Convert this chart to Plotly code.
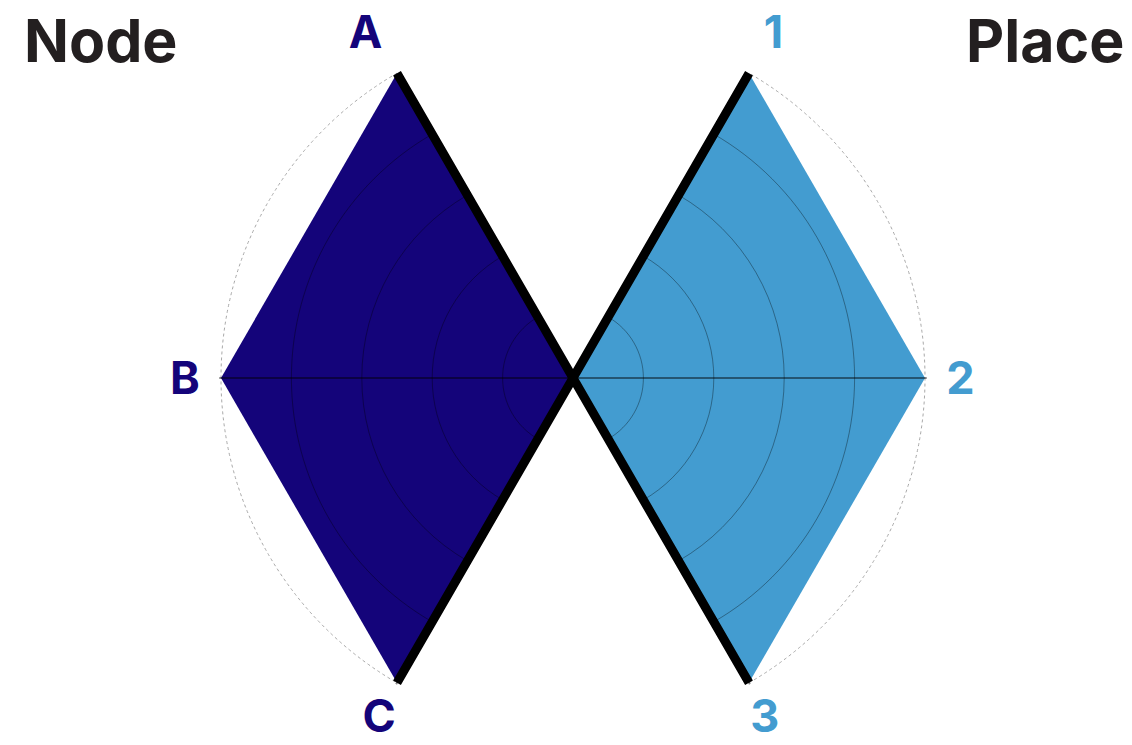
import plotly.graph_objects as go

# ---- data ----
node_categories = ["A", "B", "C"]
node_values = [5, 5, 5]
place_categories = ["1", "2", "3"]
place_values = [5, 5, 5]
radial_max = 5
grid_ticks = [1, 2, 3, 4]

NAVY = "#14047A"
BLUE = "#439CD0"
FONT = "Inter"
LABEL_SIZE = 45

W, H = 1132, 745
cx, cy = 573, 378          # shared centre (px from top-left)
RANGE_MAX = radial_max * 1.005
R = 352 * RANGE_MAX / radial_max   # so that r=5 lands at 352 px

def dom_x(x0, x1):
    return [x0 / W, x1 / W]

def dom_y(top, bottom):
    return [1 - bottom / H, 1 - top / H]

left_dom = dict(x=dom_x(cx - R, cx), y=dom_y(cy - R * 0.8660254, cy + R * 0.8660254))
right_dom = dict(x=dom_x(cx, cx + R), y=dom_y(cy - R * 0.8660254, cy + R * 0.8660254))
full_dom = dict(x=dom_x(cx - R, cx + R), y=dom_y(cy - R, cy + R))

left_sector = [120, 240]
right_sector = [-60, 60]

def angles(sector, n):
    step = (sector[1] - sector[0]) / (n - 1)
    return [sector[0] + i * step for i in range(n)]

node_theta = angles(left_sector, len(node_categories))          # A, B, C
place_theta = list(reversed(angles(right_sector, len(place_categories))))  # 1, 2, 3

def colored(txt, col):
    return f"<span style='color:{col}'>{txt}</span>"

fig = go.Figure()

# filled shapes (bottom polars)
fig.add_trace(go.Scatterpolar(
    r=[0] + node_values, theta=[180] + node_theta, mode="lines",
    fill="toself", fillcolor=NAVY, line=dict(width=0, color=NAVY),
    subplot="polar", showlegend=False, hoverinfo="skip"))
fig.add_trace(go.Scatterpolar(
    r=[0] + place_values, theta=[0] + place_theta, mode="lines",
    fill="toself", fillcolor=BLUE, line=dict(width=0, color=BLUE),
    subplot="polar3", showlegend=False, hoverinfo="skip"))

# placeholders so the grid overlays get drawn
for sp in ("polar2", "polar4"):
    fig.add_trace(go.Scatterpolar(r=[0], theta=[0], mode="markers",
                                  marker=dict(size=0.1, opacity=0), subplot=sp,
                                  showlegend=False, hoverinfo="skip"))

# thick edges (full-circle overlay polar)
fig.add_trace(go.Scatterpolar(
    r=[node_values[0], 0, node_values[-1]],
    theta=[node_theta[0], 180, node_theta[-1]], mode="lines",
    line=dict(width=9, color="black"), subplot="polar5",
    showlegend=False, hoverinfo="skip"))
fig.add_trace(go.Scatterpolar(
    r=[place_values[0], 0, place_values[-1]],
    theta=[place_theta[0], 0, place_theta[-1]], mode="lines",
    line=dict(width=9, color="black"), subplot="polar5",
    showlegend=False, hoverinfo="skip"))

def tickfont(color):
    return dict(family=FONT, size=LABEL_SIZE, color=color, weight="bold")

def base_polar(dom, sector, tickval, ticktext, color):
    # fills + dotted outer ring + middle label
    return dict(
        domain=dom, sector=sector, bgcolor="rgba(0,0,0,0)", hole=0,
        radialaxis=dict(range=[0, RANGE_MAX], tickmode="array", tickvals=[radial_max],
                        showticklabels=False, ticks="", showline=False,
                        showgrid=True, gridcolor="#a8a8a8", gridwidth=1, griddash="dot"),
        angularaxis=dict(thetaunit="degrees", direction="counterclockwise", rotation=0,
                         tickmode="array", tickvals=[tickval], ticktext=[ticktext],
                         tickfont=tickfont(color),
                         ticks="outside", ticklen=10, tickcolor="rgba(0,0,0,0)",
                         showgrid=False, showline=False))

def top_polar(dom, sector, gridangle, low_angle, low_text, color):
    # inner grid circles + middle spoke + bottom label
    return dict(
        domain=dom, sector=sector, bgcolor="rgba(0,0,0,0)", hole=0,
        radialaxis=dict(range=[0, RANGE_MAX], tickmode="array", tickvals=grid_ticks,
                        showticklabels=False, ticks="", showline=False,
                        showgrid=True, gridcolor="rgba(0,0,0,0.35)", gridwidth=1),
        angularaxis=dict(thetaunit="degrees", direction="counterclockwise", rotation=0,
                         tickmode="array", tickvals=[gridangle, low_angle],
                         ticktext=["", low_text], tickfont=tickfont(color),
                         ticks="", showgrid=True, gridcolor="rgba(0,0,0,0.45)", gridwidth=1.5,
                         showline=False))

fig.update_layout(
    width=W, height=H,
    margin=dict(l=0, r=0, t=0, b=0),
    paper_bgcolor="white", plot_bgcolor="white",
    polar=base_polar(left_dom, left_sector, node_theta[1], node_categories[1], NAVY),
    polar2=top_polar(left_dom, left_sector, 180, node_theta[2], node_categories[2], NAVY),
    polar3=base_polar(right_dom, right_sector, place_theta[1], place_categories[1], BLUE),
    polar4=top_polar(right_dom, right_sector, 0, place_theta[2], place_categories[2], BLUE),
    polar5=dict(
        domain=full_dom, bgcolor="rgba(0,0,0,0)", hole=0,
        radialaxis=dict(range=[0, RANGE_MAX], visible=False, showgrid=False),
        angularaxis=dict(thetaunit="degrees", direction="counterclockwise", rotation=0,
                         tickmode="array", tickvals=[node_theta[0], place_theta[0]],
                         ticktext=[colored(node_categories[0], NAVY),
                                   colored(place_categories[0], BLUE)],
                         tickfont=tickfont(NAVY), ticks="outside", ticklen=18,
                         tickcolor="rgba(0,0,0,0)", showgrid=False, showline=False)),
    annotations=[
        dict(text="Node", x=22 / W, y=1 - 40 / H, xref="paper", yref="paper",
             xanchor="left", yanchor="middle", showarrow=False,
             font=dict(family=FONT, size=59, color="#231F20", weight="bold")),
        dict(text="Place", x=1126 / W, y=1 - 40 / H, xref="paper", yref="paper",
             xanchor="right", yanchor="middle", showarrow=False,
             font=dict(family=FONT, size=59, color="#231F20", weight="bold")),
    ],
)

fig.write_html("out.html", config={"displayModeBar": False},
               post_script="document.body.style.margin='0px';")
